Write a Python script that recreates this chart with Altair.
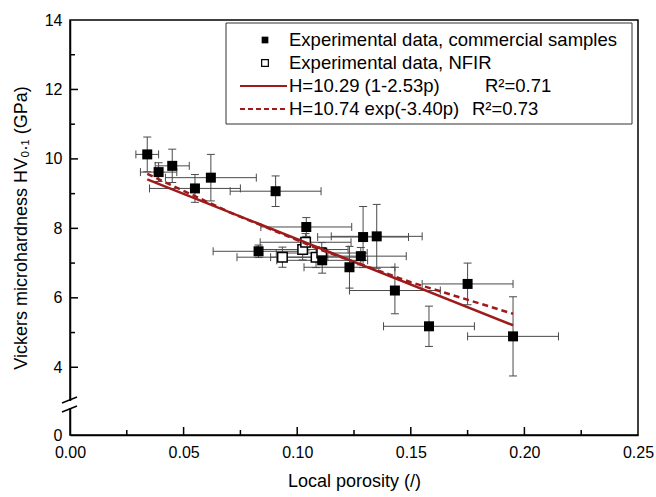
import altair as alt
import pandas as pd

# ---- data ----
p_comm = [0.034, 0.039, 0.045, 0.055, 0.062, 0.083, 0.0905, 0.104, 0.111, 0.123, 0.128, 0.129, 0.135, 0.143, 0.158, 0.175, 0.195]
h_comm = [10.13, 9.62, 9.80, 9.15, 9.46, 7.34, 9.07, 8.04, 7.08, 6.88, 7.20, 7.75, 7.77, 6.21, 5.18, 6.40, 4.89]
perr_comm = [0.005, 0.008, 0.0075, 0.02, 0.02, 0.02, 0.02, 0.02, 0.02, 0.02, 0.02, 0.02, 0.02, 0.02, 0.02, 0.02, 0.02]
herr_comm = [0.50, 0.27, 0.48, 0.40, 0.67, 0.18, 0.44, 0.27, 0.37, 0.60, 0.25, 0.88, 0.92, 0.67, 0.58, 0.60, 1.14]

p_nfir = [0.0935, 0.1024, 0.1037, 0.1083, 0.1108]
h_nfir = [7.17, 7.39, 7.60, 7.17, 7.29]
perr_nfir = [0.02, 0.02, 0.02, 0.02, 0.02]
herr_nfir = [0.29, 0.30, 0.25, 0.30, 0.30]

lin_p = [0.034, 0.195]
lin_h = [9.41, 5.21]
exp_p = [0.034, 0.07, 0.11, 0.15, 0.195]
exp_h = [9.57, 8.47, 7.39, 6.45, 5.54]

x_ticks = [0.00, 0.05, 0.10, 0.15, 0.20, 0.25]
x_minor = [0.025, 0.075, 0.125, 0.175, 0.225]
y_ticks = [0, 4, 6, 8, 10, 12, 14]
y_minor = [5, 7, 9, 11, 13]

legend_labels = ["Experimental data, commercial samples", "Experimental data, NFIR",
                 "H=10.29 (1-2.53p)", "H=10.74 exp(-3.40p)"]
legend_r2 = ["R²=0.71", "R²=0.73"]

# ---- layout ----
W, H = 568, 415
RED = "#9E1B1B"
GREY = "#4a4a4a"
FONT = "Liberation Sans"

xs = alt.Scale(domain=[0, 0.25], nice=False, zero=False)
ys = alt.Scale(domain=[0, 3, 14], range=[H, H - 33, 0], nice=False, zero=False)

xaxis = alt.Axis(values=x_ticks, format=".2f", ticks=False, grid=False, labelFontSize=16,
                 labelPadding=9, labelColor="black", labelFlush=False, labelOverlap=False,
                 title="Local porosity (/)", titleFontSize=18,
                 titleFontWeight="normal", titlePadding=12, titleColor="black",
                 domainColor="black", domainWidth=1.5, labelFont=FONT, titleFont=FONT)
yaxis = alt.Axis(values=y_ticks, format="d", ticks=False, grid=False, labelFontSize=16,
                 labelPadding=8, labelColor="black", labelFlush=False, labelOverlap=False,
                 title="Vickers microhardness HV₀.₁ (GPa)",
                 titleFontSize=18, titleFontWeight="normal", titlePadding=14, titleColor="black",
                 domainColor="black", domainWidth=1.5, labelFont=FONT, titleFont=FONT)


def X(f):
    return alt.X(f, scale=xs, axis=xaxis)


def Y(f):
    return alt.Y(f, scale=ys, axis=yaxis)


rows = []
for p, h, pe, he in zip(p_comm, h_comm, perr_comm, herr_comm):
    rows.append(dict(p=p, h=h, plo=p - pe, phi=p + pe, hlo=h - he, hhi=h + he, kind="comm"))
for p, h, pe, he in zip(p_nfir, h_nfir, perr_nfir, herr_nfir):
    rows.append(dict(p=p, h=h, plo=p - pe, phi=p + pe, hlo=h - he, hhi=h + he, kind="nfir"))
df = pd.DataFrame(rows)

base = alt.Chart(df)

hbars = base.mark_rule(color=GREY, strokeWidth=1).encode(x=X("plo:Q"), x2="phi:Q", y=Y("h:Q"))
vbars = base.mark_rule(color=GREY, strokeWidth=1).encode(x=X("p:Q"), y=Y("hlo:Q"), y2="hhi:Q")

vcap = "M0,-1L0,1"
hcap = "M-1,0L1,0"
caps = []
for fx, fy, shp in [("plo", "h", vcap), ("phi", "h", vcap), ("p", "hlo", hcap), ("p", "hhi", hcap)]:
    caps.append(base.mark_point(shape=shp, size=64, filled=False, color=GREY, strokeWidth=1, opacity=1).encode(
        x=X(f"{fx}:Q"), y=Y(f"{fy}:Q")))

open_pts = base.transform_filter(alt.datum.kind == "nfir").mark_square(
    size=90, filled=True, fill="white", stroke="black", strokeWidth=1.5, opacity=1).encode(
    x=X("p:Q"), y=Y("h:Q"))
fill_pts = base.transform_filter(alt.datum.kind == "comm").mark_square(
    size=100, filled=True, color="black", opacity=1).encode(
    x=X("p:Q"), y=Y("h:Q"))

lin = alt.Chart(pd.DataFrame({"p": lin_p, "h": lin_h})).mark_line(color=RED, strokeWidth=2.5).encode(
    x=X("p:Q"), y=Y("h:Q"))
expl = alt.Chart(pd.DataFrame({"p": exp_p, "h": exp_h})).mark_line(
    color=RED, strokeWidth=2.5, strokeDash=[6, 4]).encode(x=X("p:Q"), y=Y("h:Q"))

# inward ticks
tick_layers = []
for vals, ln in [(x_ticks[1:-1], 8), (x_minor, 5)]:
    tick_layers.append(alt.Chart(pd.DataFrame({"p": vals})).mark_rule(color="black", strokeWidth=1.5).encode(
        x=X("p:Q"), y=alt.value(H), y2=alt.value(H - ln)))
for vals, ln in [(y_ticks[1:-1], 8), (y_minor, 5)]:
    tick_layers.append(alt.Chart(pd.DataFrame({"h": vals})).mark_rule(color="black", strokeWidth=1.5).encode(
        y=Y("h:Q"), x=alt.value(0), x2=alt.value(ln)))

# axis break
dummy = alt.Chart(pd.DataFrame({"a": [0]}))
brk_gap = dummy.mark_rule(color="white", strokeWidth=4).encode(
    x=alt.value(0), y=alt.value(H - 34), y2=alt.value(H - 27))
brk1 = dummy.mark_rule(color="black", strokeWidth=1.5).encode(
    x=alt.value(-8), x2=alt.value(7), y=alt.value(H - 32), y2=alt.value(H - 38))
brk2 = dummy.mark_rule(color="black", strokeWidth=1.5).encode(
    x=alt.value(-8), x2=alt.value(7), y=alt.value(H - 23), y2=alt.value(H - 29))

# legend
LX0, LX1, LY0, LY1 = 156, 562, 3, 104
row_y = [20, 43, 66, 89]
FS = 18.5
leg = [dummy.mark_rect(fill="white", stroke="#333333", strokeWidth=1).encode(
    x=alt.value(LX0), x2=alt.value(LX1), y=alt.value(LY0), y2=alt.value(LY1))]
leg.append(dummy.mark_square(size=45, color="black", filled=True, opacity=1).encode(
    x=alt.value(195), y=alt.value(row_y[0])))
leg.append(dummy.mark_square(size=45, filled=True, fill="white", stroke="black", strokeWidth=1.2, opacity=1).encode(
    x=alt.value(195), y=alt.value(row_y[1])))
leg.append(dummy.mark_rule(color=RED, strokeWidth=2).encode(
    x=alt.value(170), x2=alt.value(217), y=alt.value(row_y[2])))
leg.append(dummy.mark_rule(color=RED, strokeWidth=2, strokeDash=[5, 3]).encode(
    x=alt.value(170), x2=alt.value(217), y=alt.value(row_y[3])))
for lab, yy in zip(legend_labels, row_y):
    leg.append(dummy.mark_text(text=lab, align="left", baseline="middle", fontSize=FS, font=FONT,
                               color="black").encode(x=alt.value(219), y=alt.value(yy)))
for lab, xx, yy in zip(legend_r2, [415, 402], row_y[2:]):
    leg.append(dummy.mark_text(text=lab, align="left", baseline="middle", fontSize=FS, font=FONT,
                               color="black").encode(x=alt.value(xx), y=alt.value(yy)))

chart = alt.layer(hbars, vbars, *caps, open_pts, lin, expl, fill_pts, *tick_layers,
                  brk_gap, brk1, brk2, *leg).properties(
    width=W, height=H,
    autosize=alt.AutoSizeParams(type="none"),
    padding={"left": 70, "top": 20, "right": 18, "bottom": 62},
    background="white",
).configure(font=FONT).configure_view(stroke="black", strokeWidth=1.5)

chart.save("out.html", embed_options={"renderer": "svg", "actions": False})
